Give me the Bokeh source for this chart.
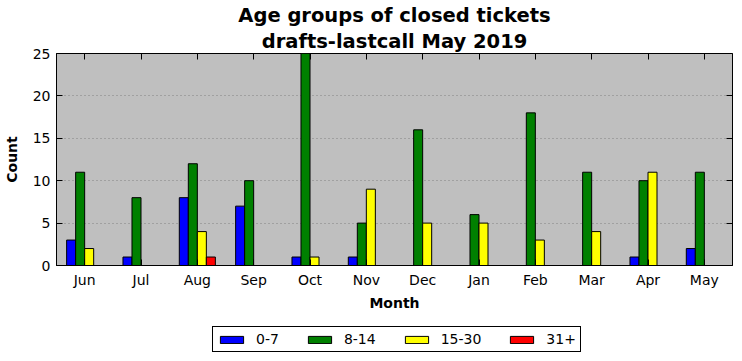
from bokeh.plotting import figure
from bokeh.layouts import column
from bokeh.models import (FactorRange, Range1d, ColumnDataSource, CategoricalAxis,
                          LinearAxis, Legend, LegendItem, Title, FixedTicker)
from bokeh.transform import dodge
from bokeh.embed import file_html
from bokeh.resources import INLINE

months = ["Jun", "Jul", "Aug", "Sep", "Oct", "Nov", "Dec", "Jan", "Feb", "Mar", "Apr", "May"]
age_0_7 = [3, 1, 8, 7, 1, 1, 0, 0, 0, 0, 1, 2]
age_8_14 = [11, 8, 12, 10, 25, 5, 16, 6, 18, 11, 10, 11]
age_15_30 = [2, 0, 4, 0, 1, 9, 5, 5, 3, 4, 11, 0]
age_31p = [0, 0, 1, 0, 0, 0, 0, 0, 0, 0, 0, 0]
series_names = ["0-7", "8-14", "15-30", "31+"]
series_colors = ["#0000ff", "#008000", "#ffff00", "#ff0000"]
y_ticks = [0, 5, 10, 15, 20, 25]

FONT = "DejaVu Sans"
src = ColumnDataSource(dict(month=months, a=age_0_7, b=age_8_14, c=age_15_30, d=age_31p))

p = figure(frame_width=676, frame_height=212, output_backend="svg", toolbar_location=None,
           x_range=FactorRange(factors=months, range_padding=0), y_range=Range1d(0, 25),
           min_border_left=56, min_border_right=10, min_border_top=53, min_border_bottom=61)
p.background_fill_color = "#bfbfbf"
p.border_fill_color = "white"
p.outline_line_color = "black"
p.outline_line_width = 1

xax = p.below[0]
yax = p.left[0]

# top axis (ticks only) goes closest to the frame
top_ax = CategoricalAxis(major_tick_in=6, major_tick_out=0, major_label_text_color=None,
                         major_label_standoff=0, axis_line_color=None)
p.add_layout(top_ax, "above")

p.title.text = "Age groups of closed tickets"
p.title.align = "center"
p.title.text_font = FONT
p.title.text_font_size = "19.5px"
p.title.text_font_style = "bold"
p.title.text_color = "black"
p.title.offset = 0
p.title.standoff = 0
t2 = Title(text="drafts-lastcall May 2019", align="center", text_font=FONT, text_color="black",
           text_font_size="19.5px", text_font_style="bold", standoff=2)
p.add_layout(t2, "above")

w = 0.16
offsets = [-1.5 * w, -0.5 * w, 0.5 * w, 1.5 * w]
for col, off, color in zip(["a", "b", "c", "d"], offsets, series_colors):
    p.vbar(x=dodge("month", off, range=p.x_range), top=col, width=w, bottom=0,
           source=src, fill_color=color, line_color="black", line_width=1)

for ax in (xax, yax):
    ax.major_tick_in = 6
    ax.major_tick_out = 0
    ax.minor_tick_in = 0
    ax.minor_tick_out = 0
    ax.major_label_text_font = FONT
    ax.major_label_text_font_size = "14px"
    ax.major_label_text_color = "black"
    ax.axis_label_text_font = FONT
    ax.axis_label_text_font_size = "14px"
    ax.axis_label_text_font_style = "bold"
    ax.axis_label_text_color = "black"
    ax.axis_line_color = "black"
    ax.major_tick_line_color = "black"
xax.axis_label = "Month"
yax.axis_label = "Count"
yax.ticker = FixedTicker(ticks=y_ticks)
xax.major_label_standoff = 6
yax.major_label_standoff = 6
xax.axis_label_standoff = 4
yax.axis_label_standoff = 10

right_ax = LinearAxis(ticker=FixedTicker(ticks=y_ticks), major_tick_in=6, major_tick_out=0,
                      minor_tick_in=0, minor_tick_out=0, major_label_text_color=None,
                      major_label_standoff=0, axis_line_color=None)
p.add_layout(right_ax, "right")

p.xgrid.grid_line_color = None
p.ygrid.grid_line_color = "#808080"
p.ygrid.grid_line_dash = "1 3"
p.ygrid.grid_line_width = 1

# legend strip below the chart (legend renderers are hidden; only their legend glyphs show)
lg = figure(frame_width=742, frame_height=26, output_backend="svg", toolbar_location=None,
            x_axis_type=None, y_axis_type=None,
            x_range=FactorRange(factors=months, range_padding=0), y_range=Range1d(0, 25),
            min_border_left=0, min_border_right=0, min_border_top=0, min_border_bottom=0)
lg.outline_line_color = None
lg.background_fill_color = "white"
lg.grid.grid_line_color = None
leg_renderers = []
for col, off, color in zip(["a", "b", "c", "d"], offsets, series_colors):
    r = lg.vbar(x=dodge("month", off, range=lg.x_range), top=col, width=w, bottom=0,
                source=src, fill_color=color, line_color="black", line_width=1, visible=False)
    leg_renderers.append(r)
legend = Legend(items=[LegendItem(label=n, renderers=[r]) for n, r in zip(series_names, leg_renderers)],
                orientation="horizontal", location=(212, 0))
legend.label_text_font = FONT
legend.label_text_font_size = "14px"
legend.label_text_color = "black"
legend.label_height = 14
legend.glyph_width = 29
legend.glyph_height = 9
legend.label_standoff = 10
legend.spacing = 26
legend.padding = 4
legend.margin = 0
legend.border_line_color = "black"
legend.border_line_width = 1
legend.border_line_alpha = 1
legend.background_fill_color = "white"
legend.background_fill_alpha = 1
legend.inactive_fill_alpha = 0
legend.click_policy = "none"
lg.add_layout(legend, "center")

layout = column(p, lg, spacing=0)
open("out.html", "w").write(file_html(layout, INLINE))
